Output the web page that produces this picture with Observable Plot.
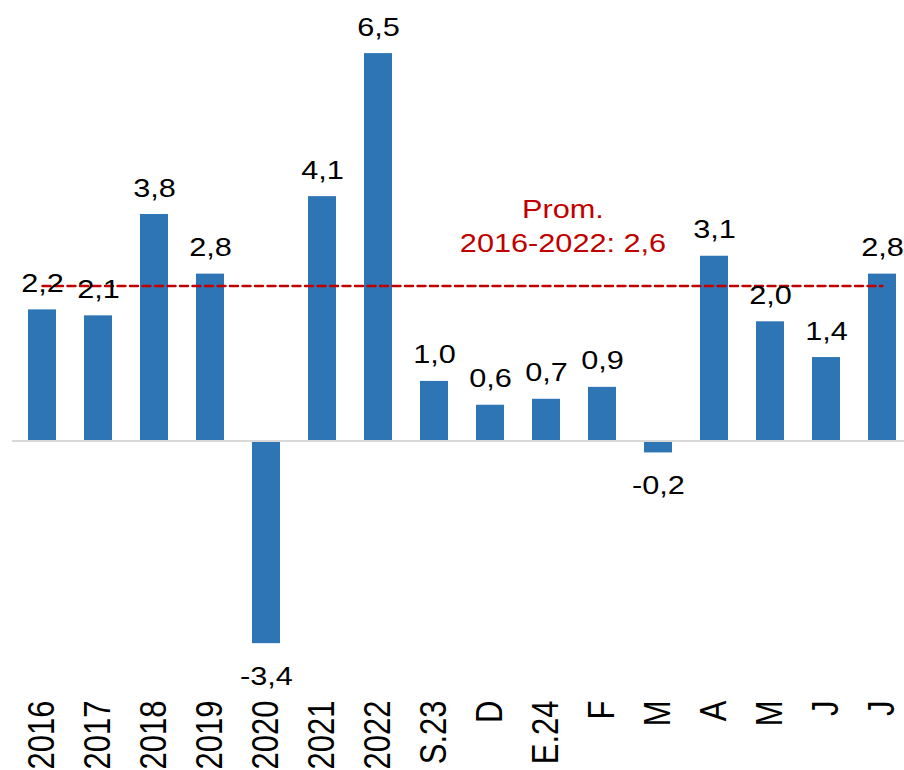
<!DOCTYPE html>
<html>
<head>
<meta charset="utf-8">
<script src="https://cdn.jsdelivr.net/npm/d3@7"></script>
<script src="https://cdn.jsdelivr.net/npm/@observablehq/plot@0.6"></script>
<style>
  html, body { margin: 0; padding: 0; background: #fff; }
  #chart svg { display: block; }
</style>
</head>
<body>
<div id="chart"></div>
<script>
// Categories (tick labels) and values
const labels = ["2016","2017","2018","2019","2020","2021","2022","S.23","D","E.24","F","M","A","M","J","J"];
const values = [2.2, 2.1, 3.8, 2.8, -3.4, 4.1, 6.5, 1.0, 0.6, 0.7, 0.9, -0.2, 3.1, 2.0, 1.4, 2.8];
const average = 2.6;
const averageLabel = ["Prom.", "2016-2022: 2,6"];

const data = labels.map((label, i) => ({i, label, value: values[i], text: values[i].toFixed(1).replace(".", ",")}));
const pos = data.filter(d => d.value >= 0);
const neg = data.filter(d => d.value < 0);
const avgLine = [{i: 0, y: average}, {i: labels.length - 1, y: average}];

const font = "Liberation Sans, Arial, sans-serif";

const chart = Plot.plot({
  width: 904,
  height: 770,
  marginTop: 0,
  marginBottom: 70,
  marginLeft: 12,
  marginRight: 0,
  style: {fontFamily: font, background: "#fff"},
  x: {type: "band", domain: d3.range(labels.length), range: [25.7, 899.1], paddingInner: 0.5, paddingOuter: 0, axis: null},
  y: {domain: [-4.354, 7.391], axis: null},
  marks: [
    Plot.barY(data, {x: "i", y: "value", fill: "#2e75b6"}),
    Plot.ruleY([0], {stroke: "#d9d9d9", strokeWidth: 2}),
    Plot.line(avgLine, {x: "i", y: "y", stroke: "#c00000", strokeWidth: 2.4, strokeDasharray: "8,4.5"}),
    Plot.text(pos, {x: "i", y: "value", text: "text", lineAnchor: "bottom", dy: -18, fontSize: 26, fill: "#000", className: "stretch-h"}),
    Plot.text(neg, {x: "i", y: "value", text: "text", lineAnchor: "bottom", dy: 41, fontSize: 26, fill: "#000", className: "stretch-h"}),
    Plot.text(data, {x: "i", text: "label", frameAnchor: "bottom", rotate: -90, textAnchor: "end", lineAnchor: "middle", fontSize: 31, fill: "#000", className: "stretch-v"}),
    Plot.text([{t: averageLabel.join("\n")}], {frameAnchor: "top-left", dx: 562.5 - 12, dy: 251.7, text: "t", textAnchor: "middle", lineAnchor: "bottom", lineHeight: 1.31, fontSize: 26, fill: "#c00000", className: "stretch-h"})
  ]
});

// widen glyphs horizontally, as in the reference
chart.querySelectorAll("g.stretch-h text").forEach(t => {
  const tr = t.getAttribute("transform") || "";
  t.setAttribute("transform", tr + " scale(1.18,1)");
});
chart.querySelectorAll("g.stretch-v text").forEach(t => {
  const tr = t.getAttribute("transform") || "";
  t.setAttribute("transform", tr + " scale(1,1.18)");
});
document.getElementById("chart").appendChild(chart);
</script>
</body>
</html>
